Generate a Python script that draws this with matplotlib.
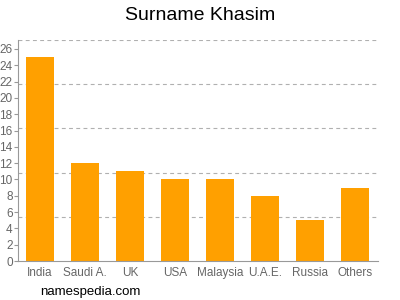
import matplotlib
matplotlib.use("Agg")
import matplotlib.pyplot as plt
import numpy as np

plt.rcParams["font.family"] = ["Liberation Sans", "DejaVu Sans"]

countries = ["India", "Saudi A.", "UK", "USA", "Malaysia", "U.A.E.", "Russia", "Others"]
counts = [25, 12, 11, 10, 10, 8, 5, 9]
y_ticks = list(range(0, 27, 2))
y_top = 27.1

fig = plt.figure(figsize=(4, 3), dpi=100)
ax = fig.add_axes((17.5 / 400, 39 / 300, 360 / 400, 221 / 300))

x = np.arange(len(countries))
ax.bar(x, counts, width=0.62, color="#ffa000", zorder=2)

ax.set_xlim(-0.5, len(countries) - 0.5)
ax.set_ylim(0, y_top)
ax.set_xticks(x)
ax.set_xticklabels(countries)
ax.set_yticks(y_ticks)

for k in range(1, 6):
    ax.axhline(y_top * k / 5, color="#b0b0b0", lw=0.8, ls=(0, (3.5, 3)), zorder=1)

for side in ("top", "right"):
    ax.spines[side].set_visible(False)
for side in ("left", "bottom"):
    ax.spines[side].set_color("#999999")
    ax.spines[side].set_linewidth(0.8)

ax.tick_params(axis="y", colors="#999999", labelcolor="#666666", labelsize=8.5,
               length=3, width=0.8, pad=0.5)
ax.tick_params(axis="x", length=0, labelcolor="#666666", labelsize=8.5, pad=4)

fig.text(0.5, 0.948, "Surname Khasim", ha="center", va="center", fontsize=14)
fig.text(0.1, 0.028, "namespedia.com", ha="left", va="center", fontsize=9.5)

fig.savefig("out.png", dpi=100)
